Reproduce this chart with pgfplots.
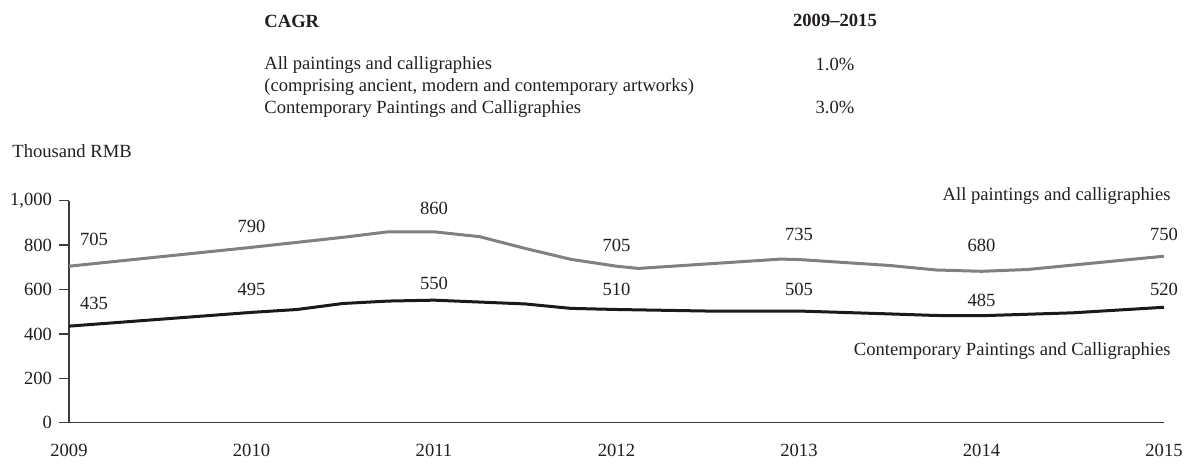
\documentclass[border=0pt]{standalone}
\usepackage{pgfplots}
\pgfplotsset{compat=1.18}
\usepackage{fontspec}
\setmainfont{Liberation Serif}
\definecolor{txt}{HTML}{231F20}
\definecolor{axc}{HTML}{3C3C3C}
\definecolor{grayline}{HTML}{808080}
\definecolor{blackline}{HTML}{1A1A1A}
\newcommand{\fs}{\fontsize{9.3bp}{11bp}\selectfont}
\begin{document}
\begin{tikzpicture}
\path (0,0) rectangle (596bp,-230.5bp);
\begin{axis}[
  scale only axis, width=547.5bp, height=111bp,
  at={(34.5bp,-211.35bp)}, anchor=south west,
  xmin=2009, xmax=2015, ymin=0, ymax=1000,
  axis lines=left,
  axis line style={draw=axc, line width=0.75bp, -},
  xtick={2009,2010,2011,2012,2013,2014,2015},
  xticklabels={2009,2010,2011,2012,2013,2014,2015},
  xtick style={draw=none},
  xticklabel style={yshift=-2.4bp},
  ytick={0,200,400,600,800,1000},
  yticklabels={0,200,400,600,800,{1,000}},
  ytick style={draw=axc, line width=0.75bp},
  tick align=outside, major tick length=5bp,
  /pgf/number format/assume math mode=true,
  tick label style={font=\fs, text=txt},
  clip=false,
]
\addplot[grayline, line width=1.5bp, line join=round] coordinates {
(2009,705) (2010,790) (2010.5,835) (2010.75,860) (2011,860) (2011.25,838)
(2011.5,785) (2011.75,736) (2012,705) (2012.12,695) (2012.9,737) (2013,735)
(2013.5,708) (2013.75,688) (2014,682) (2014.25,690) (2015,750)};
\addplot[blackline, line width=1.5bp, line join=round] coordinates {
(2009,435) (2010,497) (2010.25,510) (2010.5,537) (2010.75,548) (2011,552)
(2011.5,535) (2011.75,515) (2012,510) (2012.5,503) (2013,503) (2013.5,490)
(2013.75,483) (2014,482) (2014.5,495) (2015,520)};
% value labels
\begin{scope}[every node/.style={font=\fs, text=txt, anchor=base, inner sep=0pt}]
\node at (axis cs:2009.137,800) {705};
\node at (axis cs:2010,858) {790};
\node at (axis cs:2011,936) {860};
\node at (axis cs:2012,770) {705};
\node at (axis cs:2013,823) {735};
\node at (axis cs:2014,770) {680};
\node at (axis cs:2015,823) {750};
\node at (axis cs:2009.137,512) {435};
\node at (axis cs:2010,571) {495};
\node at (axis cs:2011,601) {550};
\node at (axis cs:2012,571) {510};
\node at (axis cs:2013,575) {505};
\node at (axis cs:2014,522) {485};
\node at (axis cs:2015,571) {520};
\node[anchor=base east] at (axis cs:2015.038,1000) {All paintings and calligraphies};
\node[anchor=base east] at (axis cs:2015.038,305) {Contemporary Paintings and Calligraphies};
\end{scope}
\end{axis}
\begin{scope}[x=0.5bp, y=-0.5bp, every node/.style={font=\fs, text=txt, inner sep=0pt}]
\node[anchor=base west] at (264,27) {\bfseries CAGR};
\node[anchor=base] at (835,26) {\bfseries 2009--2015};
\node[anchor=base west] at (264,69.5) {All paintings and calligraphies};
\node[anchor=base west] at (264,91.5) {(comprising ancient, modern and contemporary artworks)};
\node[anchor=base west] at (264,113.5) {Contemporary Paintings and Calligraphies};
\node[anchor=base] at (835,70) {1.0\%};
\node[anchor=base] at (835,113.5) {3.0\%};
\node[anchor=base west] at (12,157) {Thousand RMB};
\end{scope}
\end{tikzpicture}
\end{document}
